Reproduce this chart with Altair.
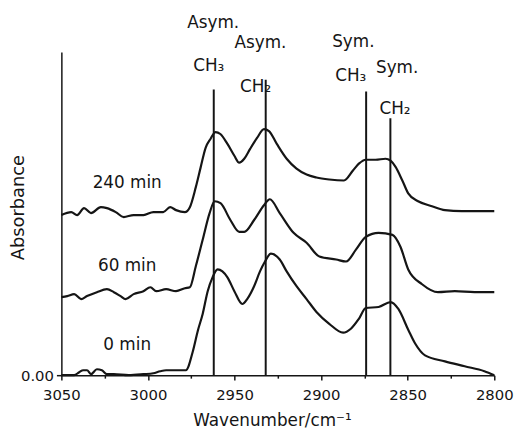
import altair as alt
import pandas as pd

# ---- spectra (wavenumber in cm-1, absorbance in arbitrary units) ----
wn_240 = [3050, 3044.3, 3040.9, 3036.9, 3032.9, 3027.2, 3023.7, 3018.6, 3014.0, 3008.3,
          3002.6, 2996.9, 2991.2, 2987.2, 2983.8, 2978.7, 2975.8, 2972.4, 2969.6, 2966.7,
          2963.9, 2961.0, 2958.2, 2954.1, 2950.1, 2947.3, 2944.4, 2941.0, 2937.0, 2933.0,
          2930.1, 2925.6, 2919.9, 2914.2, 2908.4, 2902.7, 2895.3, 2886.8, 2881.6, 2878.2,
          2874.2, 2868.5, 2862.8, 2859.9, 2857.1, 2853.1, 2849.7, 2844.0, 2836.0, 2828.5,
          2818.8, 2800]
abs_240 = [0.162, 0.165, 0.162, 0.169, 0.164, 0.170, 0.169, 0.165, 0.160, 0.162,
           0.162, 0.165, 0.165, 0.170, 0.167, 0.165, 0.170, 0.190, 0.210, 0.230,
           0.239, 0.246, 0.244, 0.234, 0.222, 0.215, 0.219, 0.229, 0.240, 0.249,
           0.247, 0.234, 0.219, 0.209, 0.203, 0.200, 0.198, 0.197, 0.207, 0.214,
           0.218, 0.218, 0.219, 0.217, 0.211, 0.197, 0.184, 0.176, 0.171, 0.167,
           0.166, 0.166]

wn_60 = [3050, 3046.6, 3042.6, 3038.6, 3035.2, 3029.5, 3023.7, 3019.7, 3015.8, 3012.9,
         3008.3, 3002.6, 2998.6, 2995.2, 2989.5, 2983.8, 2978.7, 2975.8, 2972.4, 2968.4,
         2964.4, 2961.5, 2958.1, 2952.4, 2947.3, 2944.4, 2938.7, 2933.0, 2929.6, 2923.9,
         2915.9, 2908.4, 2901.0, 2891.3, 2885.6, 2879.9, 2874.2, 2866.8, 2858.8, 2854.2,
         2849.7, 2841.7, 2832.5, 2822.8, 2811.4, 2800]
abs_60 = [0.079, 0.080, 0.082, 0.077, 0.080, 0.084, 0.087, 0.084, 0.080, 0.077,
          0.082, 0.085, 0.089, 0.085, 0.087, 0.085, 0.088, 0.089, 0.110, 0.137,
          0.164, 0.176, 0.174, 0.157, 0.145, 0.145, 0.157, 0.172, 0.178, 0.164,
          0.144, 0.134, 0.120, 0.117, 0.115, 0.127, 0.140, 0.144, 0.142, 0.130,
          0.107, 0.092, 0.084, 0.085, 0.084, 0.084]

wn_0 = [3050, 3042.6, 3039.7, 3037.4, 3035.2, 3032.9, 3029.5, 3026.6, 3023.7, 3019.7,
        3011.2, 3002.6, 2996.9, 2992.9, 2989.5, 2981.5, 2978.1, 2974.1, 2971.2, 2968.4,
        2965.5, 2962.7, 2959.8, 2957.0, 2954.1, 2950.1, 2945.5, 2942.7, 2938.7, 2935.3,
        2932.4, 2929.0, 2923.9, 2919.9, 2914.2, 2908.4, 2902.7, 2895.3, 2887.3, 2882.8,
        2878.2, 2874.2, 2866.8, 2859.9, 2855.4, 2849.7, 2845.7, 2840.0, 2828.5, 2817.1,
        2805.7, 2800]
abs_0 = [0.000, 0.000, 0.003, 0.005, 0.005, 0.001, 0.006, 0.005, 0.001, 0.001,
         0.000, 0.001, 0.002, 0.004, 0.005, 0.005, 0.005, 0.024, 0.045, 0.062,
         0.085, 0.099, 0.107, 0.105, 0.099, 0.085, 0.072, 0.077, 0.090, 0.105,
         0.115, 0.123, 0.117, 0.105, 0.090, 0.077, 0.064, 0.052, 0.043, 0.047,
         0.057, 0.068, 0.069, 0.074, 0.067, 0.046, 0.032, 0.020, 0.014, 0.009,
         0.004, 0.000]

series_names = ["240 min", "60 min", "0 min"]
label_wn = [3012, 3012, 3012]
label_abs = [0.194, 0.110, 0.030]

# ---- band assignments ----
peak_wn = [2962, 2932, 2874, 2860]
peak_top = [0.289, 0.299, 0.287, 0.260]

ann_text = ["Asym.", "CH\u2083", "Asym.", "CH\u2082", "Sym.", "CH\u2083", "Sym.", "CH\u2082"]
ann_wn = [2962.3, 2964.9, 2935.0, 2937.8, 2881.4, 2882.9, 2856.1, 2857.3]
ann_abs = [0.356, 0.313, 0.336, 0.292, 0.337, 0.303, 0.311, 0.269]

x_ticks = [3050, 3025, 3000, 2975, 2950, 2925, 2900, 2875, 2850, 2825, 2800]

rows = []
for name, ws, As in [("240 min", wn_240, abs_240), ("60 min", wn_60, abs_60), ("0 min", wn_0, abs_0)]:
    for w, a in zip(ws, As):
        rows.append({"series": name, "wn": w, "absorbance": a})
df = pd.DataFrame(rows)
df_lab = pd.DataFrame({"text": series_names, "wn": label_wn, "absorbance": label_abs})
df_peak = pd.DataFrame({"wn": peak_wn, "base": [0.0] * 4, "top": peak_top})
df_ann = pd.DataFrame({"text": ann_text, "wn": ann_wn, "absorbance": ann_abs})

FONT = "DejaVu Sans"
INK = "#151515"

x_scale = alt.Scale(domain=[2800, 3050], reverse=True, nice=False, zero=False)
y_scale = alt.Scale(domain=[0, 0.327], nice=False, zero=False)

x_axis = alt.Axis(
    values=x_ticks,
    labelExpr="datum.value % 50 == 0 ? datum.label : ''",
    tickSize={"condition": {"test": "datum.value % 50 != 0", "value": 3}, "value": 5},
    format="d",
    grid=False,
    labelFlush=False,
    labelOverlap=False,
    domainColor=INK, tickColor=INK, labelColor=INK, titleColor=INK,
    domainWidth=1.5, tickWidth=1.5,
    labelFont=FONT, labelFontSize=15, labelPadding=8,
    title="Wavenumber/cm\u207b\u00b9",
    titleFont=FONT, titleFontSize=17, titleFontWeight="normal",
    titleX=213, titleY=46, titleBaseline="middle",
)
y_axis = alt.Axis(
    values=[0],
    format=".2f",
    grid=False,
    labelFlush=False,
    domainColor=INK, tickColor=INK, labelColor=INK, titleColor=INK,
    domainWidth=1.5, tickWidth=1.5, tickSize=5,
    labelFont=FONT, labelFontSize=15, labelPadding=3,
    title="Absorbance",
    titleFont=FONT, titleFontSize=18, titleFontWeight="normal",
    titleX=-43, titleY=157, titleBaseline="middle", titleAlign="center", titleAngle=270,
)

lines = alt.Chart(df).mark_line(color=INK, strokeWidth=2.2, interpolate="monotone").encode(
    x=alt.X("wn:Q", scale=x_scale, axis=x_axis),
    y=alt.Y("absorbance:Q", scale=y_scale, axis=y_axis),
    detail="series:N",
)

rules = alt.Chart(df_peak).mark_rule(color=INK, strokeWidth=2).encode(
    x=alt.X("wn:Q", scale=x_scale),
    y=alt.Y("base:Q", scale=y_scale),
    y2="top:Q",
)

ann = alt.Chart(df_ann).mark_text(font=FONT, fontSize=17, color=INK, baseline="middle", align="center").encode(
    x=alt.X("wn:Q", scale=x_scale),
    y=alt.Y("absorbance:Q", scale=y_scale),
    text="text:N",
)

labs = alt.Chart(df_lab).mark_text(font=FONT, fontSize=17, color=INK, baseline="middle", align="center").encode(
    x=alt.X("wn:Q", scale=x_scale),
    y=alt.Y("absorbance:Q", scale=y_scale),
    text="text:N",
)

chart = alt.layer(lines, rules, ann, labs).properties(
    width=438, height=327,
    autosize=alt.AutoSizeParams(type="none"),
    padding={"left": 54, "top": 42, "right": 24, "bottom": 56},
    background="white",
).configure_view(stroke=None)

chart.save("out.html", embed_options={"renderer": "svg", "actions": False})
